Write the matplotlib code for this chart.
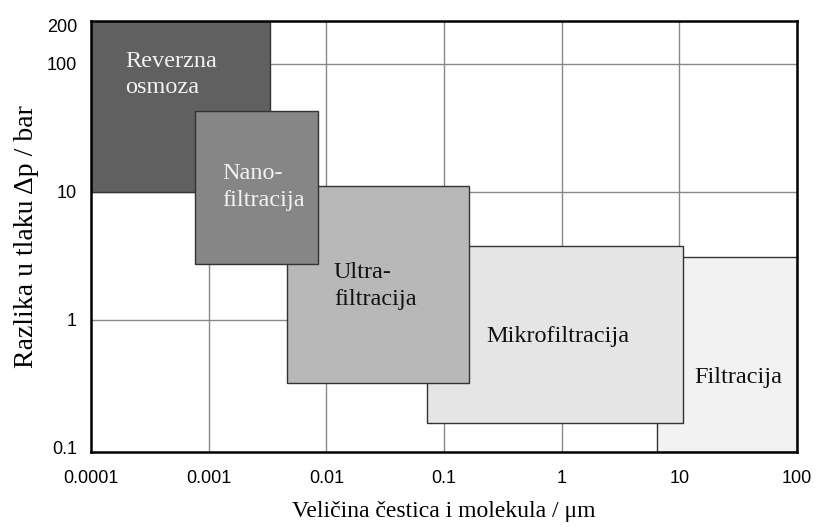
import numpy as np
import matplotlib.pyplot as plt
from matplotlib.patches import Rectangle

# procesi membranske separacije
names = ["Filtracija", "Mikrofiltracija", "Ultra-\nfiltracija", "Reverzna\nosmoza", "Nano-\nfiltracija"]
x_lo = [6.4, 0.0716, 0.0046, 0.0001, 0.00077]
x_hi = [100, 10.7, 0.163, 0.0033, 0.0085]
p_lo = [0.093, 0.157, 0.32, 10, 2.74]
p_hi = [3.1, 3.8, 11.1, 215, 43]
fills = ["#f2f2f2", "#e5e5e5", "#b8b8b8", "#606060", "#868686"]
txt_colors = ["#111111", "#111111", "#111111", "#f2f2f2", "#f2f2f2"]
label_x = [13.5, 0.231, 0.0116, 0.000194, 0.0013]
label_y = [0.352, 0.736, 1.84, 82, 10.9]

x_ticks = [0.0001, 0.001, 0.01, 0.1, 1, 10, 100]
x_ticklabels = ["0.0001", "0.001", "0.01", "0.1", "1", "10", "100"]
y_ticks = [0.1, 1, 10, 100, 200]
y_ticklabels = ["0.1", "1", "10", "100", "200"]

fig = plt.figure(figsize=(8.16, 5.29), dpi=100)
ax = fig.add_axes([0.1115, 0.1456, 0.8652, 0.8147])
ax.set_xscale("log")
ax.set_yscale("log")
ax.set_xlim(1e-4, 100)
ax.set_ylim(0.093, 215)
ax.minorticks_off()

# mreza samo unutar okvira
for xv in x_ticks[1:-1]:
    ax.axvline(xv, color="#888888", linewidth=1.0, zorder=1)
for yv in y_ticks[1:-1]:
    ax.axhline(yv, color="#888888", linewidth=1.0, zorder=1)

for i in range(len(names)):
    r = Rectangle((x_lo[i], p_lo[i]), x_hi[i] - x_lo[i], p_hi[i] - p_lo[i],
                  facecolor=fills[i], edgecolor="#333333", linewidth=1.0, zorder=2 + i)
    ax.add_patch(r)
    ax.text(label_x[i], label_y[i], names[i], color=txt_colors[i], fontsize=17.5,
            family="Liberation Serif", ha="left", va="center", linespacing=1.35, zorder=10)

ax.set_xticks(x_ticks)
ax.set_xticklabels(x_ticklabels)
ax.set_yticks(y_ticks)
ax.set_yticklabels(y_ticklabels)
ax.tick_params(axis="x", length=0, pad=13, labelsize=13)
ax.tick_params(axis="y", length=0, pad=10, labelsize=13)
for lab in ax.get_xticklabels() + ax.get_yticklabels():
    lab.set_family("Liberation Sans")

for s in ax.spines.values():
    s.set_linewidth(1.8)
    s.set_color("black")
    s.set_zorder(20)

ax.set_xlabel("Veličina čestica i molekula / μm", family="Liberation Serif", fontsize=17, labelpad=10)
ax.set_ylabel("Razlika u tlaku Δp / bar", family="Liberation Serif", fontsize=20, labelpad=6)

plt.savefig("out.png", dpi=100)
